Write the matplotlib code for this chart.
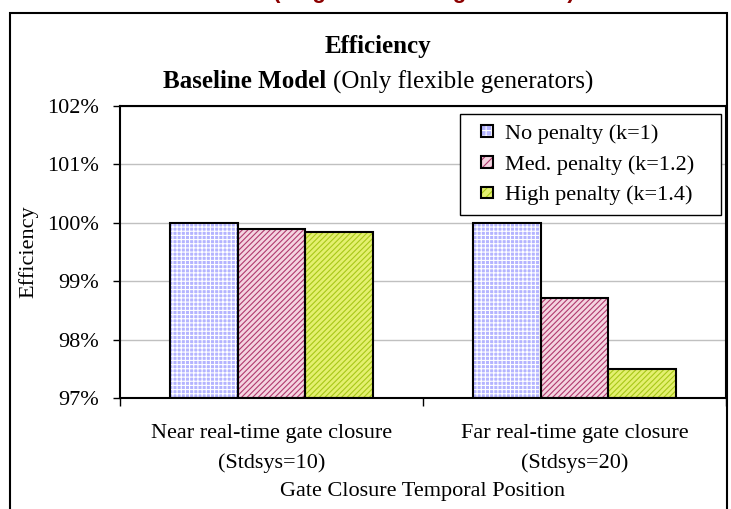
import numpy as np
import matplotlib
matplotlib.use("Agg")
import matplotlib.pyplot as plt
from matplotlib.patches import Rectangle, Patch
from matplotlib.legend_handler import HandlerBase
from matplotlib.ticker import PercentFormatter

categories = ["Near real-time gate closure\n(Stdsys=10)",
              "Far real-time gate closure\n(Stdsys=20)"]
series = ["No penalty (k=1)", "Med. penalty (k=1.2)", "High penalty (k=1.4)"]
no_penalty = [1.000, 1.000]
med_penalty = [0.9990, 0.9871]
high_penalty = [0.9984, 0.9750]
yticks = [0.97, 0.98, 0.99, 1.00, 1.01, 1.02]

faces = ["#b4b4ff", "#f4d4e0", "#e4f070"]
hatch_cols = ["white", "#b03a6e", "#a8c818"]
hatches = ["++++", "//////", "//////"]

plt.rcParams['font.family'] = ['Liberation Serif', 'DejaVu Serif']
plt.rcParams['hatch.linewidth'] = 0.8

fig = plt.figure(figsize=(7.31, 5.09), dpi=100)
W, H = 731, 509
ax = fig.add_axes([120 / W, 1 - 398 / H, 606 / W, 292 / H])

x = np.arange(len(categories))
bw = 0.2244
values = [no_penalty, med_penalty, high_penalty]
for i, vals in enumerate(values):
    pos = x + (i - 1) * bw
    ax.bar(pos, np.array(vals) - 0.97, bw, bottom=0.97, color=faces[i],
           hatch=hatches[i], edgecolor=hatch_cols[i], linewidth=0, zorder=2)
    ax.bar(pos, np.array(vals) - 0.97, bw, bottom=0.97, fill=False,
           edgecolor="black", linewidth=1.5, zorder=3)

ax.set_xlim(-0.5, 1.5)
ax.set_ylim(0.97, 1.02)
ax.set_yticks(yticks)
ax.yaxis.set_major_formatter(PercentFormatter(1.0, decimals=0))
ax.grid(axis="y", color="#c0c0c0", linewidth=1, zorder=0)
ax.set_axisbelow(True)
for s in ax.spines.values():
    s.set_linewidth(1.5)

ax.set_xticks(x)
ax.set_xticklabels(categories, fontsize=16, linespacing=1.7)
ax.set_xticks([-0.5, 0.5, 1.5], minor=True)
ax.tick_params(axis="x", which="major", length=0, pad=19)
ax.tick_params(axis="x", which="minor", length=6, width=1, direction="out")
ax.tick_params(axis="y", length=5, width=1, direction="out", labelsize=16, pad=10)

ax.set_xlabel("Gate Closure Temporal Position", fontsize=16, labelpad=6)
ax.set_ylabel("Efficiency", fontsize=16)
ax.yaxis.set_label_coords(-0.134, 0.5)


class SquareHandler(HandlerBase):
    def create_artists(self, legend, orig_handle, xdescent, ydescent,
                       width, height, fontsize, trans):
        size = height
        x0 = width - size - xdescent
        y0 = -ydescent
        fill = Rectangle((x0, y0), size, size, facecolor=orig_handle.get_facecolor(),
                         hatch=orig_handle.get_hatch(), edgecolor=orig_handle.get_edgecolor(),
                         linewidth=0, transform=trans)
        edge = Rectangle((x0, y0), size, size, fill=False, edgecolor="black",
                         linewidth=1.5, transform=trans)
        return [fill, edge]


handles = [Patch(facecolor=faces[i], hatch="+++" if i == 0 else "////",
                 edgecolor=hatch_cols[i]) for i in range(3)]
leg = ax.legend(handles, [s + "   " for s in series], loc="upper right",
                bbox_to_anchor=(1 - 5 / 606, 1 - 8 / 292),
                handler_map={Patch: SquareHandler()}, fontsize=16,
                frameon=True, fancybox=False, edgecolor="black",
                framealpha=1, borderpad=0.45, borderaxespad=0,
                handlelength=1.0, handleheight=0.45, handletextpad=0.55,
                labelspacing=0.5)
leg.get_frame().set_linewidth(1.0)

# titles
fig.text(378 / W, 1 - 47 / H, "Efficiency", ha="center", va="center",
         fontsize=18, fontweight="bold")
t1 = fig.text(0, 1 - 82 / H, "Baseline Model ", ha="left", va="center",
              fontsize=18, fontweight="bold")
t2 = fig.text(0, 1 - 82 / H, "(Only flexible generators)", ha="left", va="center",
              fontsize=18)
fig.canvas.draw()
r = fig.canvas.get_renderer()
w1 = t1.get_window_extent(r).width
w2 = t2.get_window_extent(r).width
start = 378 - (w1 + w2) / 2
t1.set_x(start / W)
t2.set_x((start + w1) / W)

# clipped red heading from the slide above (only its descenders show)
fig.text(424 / W, 1 + 1.5 / H, "(Original flexible generators)", ha="center",
         va="baseline", fontsize=16, fontweight="bold", color="#8b0000",
         family="Liberation Sans")

# outer chart border
fig.patches.append(Rectangle((10 / W, -0.1), 717 / W, 1.1 - 13 / H, fill=False,
                             edgecolor="black", linewidth=1.5,
                             transform=fig.transFigure, figure=fig))

fig.savefig("out.png", dpi=100)
